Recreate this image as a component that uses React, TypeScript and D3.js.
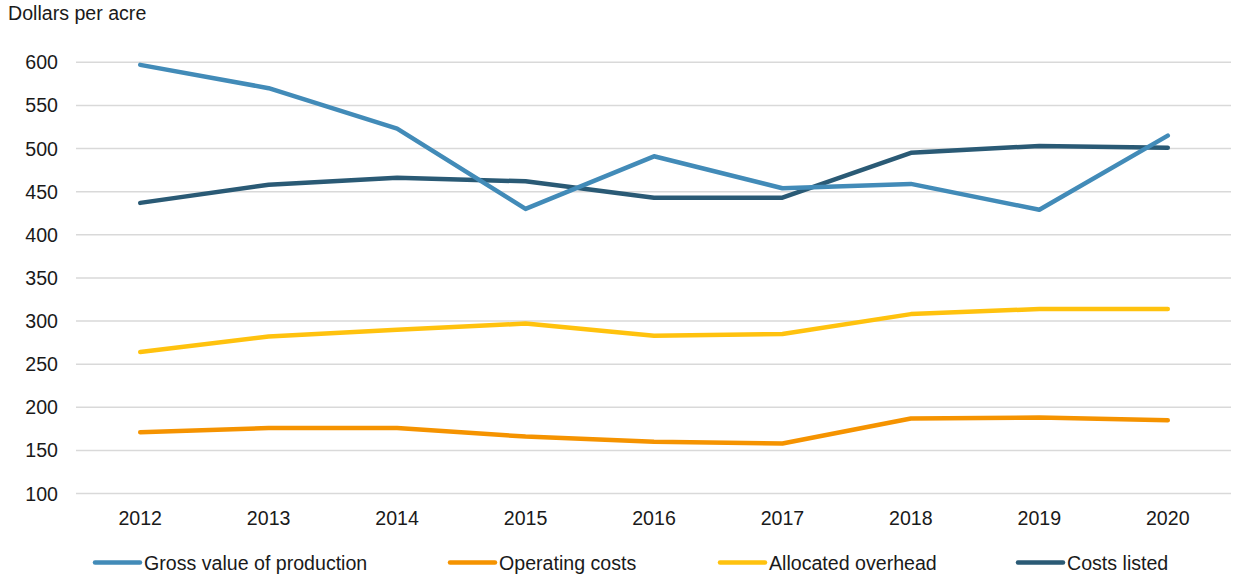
import React from "react";
import * as d3 from "d3";

const years = ["2012", "2013", "2014", "2015", "2016", "2017", "2018", "2019", "2020"];
const grossValue = [597, 570, 523, 430, 491, 454, 459, 429, 515];
const operatingCosts = [171, 176, 176, 166, 160, 158, 187, 188, 185];
const allocatedOverhead = [264, 282, 290, 297, 283, 285, 308, 314, 314];
const costsListed = [437, 458, 466, 462, 443, 443, 495, 503, 501];
const yTicks = [100, 150, 200, 250, 300, 350, 400, 450, 500, 550, 600];

const seriesNames = ["Gross value of production", "Operating costs", "Allocated overhead", "Costs listed"];
const seriesColors = ["#428bb8", "#f59300", "#ffc20e", "#2a5a75"];
const seriesValues = [grossValue, operatingCosts, allocatedOverhead, costsListed];
// draw order: overhead/operating first, then costs listed, gross on top
const drawOrder = [1, 2, 3, 0];
const legendX = [95, 450, 720, 1018];

const W = 1233;
const H = 579;
const FONT = "'Liberation Sans', Arial, sans-serif";
const FS = 19.6;

export default function App() {
  const x = d3.scalePoint<string>().domain(years).range([76, 1232]).padding(0.5);
  const y = d3.scaleLinear().domain([100, 600]).range([493.5, 62.3]);
  const line = d3
    .line<number>()
    .x((_, i) => x(years[i]) as number)
    .y((d) => y(d));

  return (
    <svg
      width={W}
      height={H}
      style={{ position: "absolute", left: 0, top: 0, display: "block", background: "#fff" }}
      fontFamily={FONT}
    >
      <text x={8} y={20} fontSize={FS} fill="#1a1a1a">
        Dollars per acre
      </text>
      {yTicks.map((t) => (
        <g key={t}>
          <line x1={76} x2={1231} y1={y(t)} y2={y(t)} stroke="#d9d9d9" strokeWidth={1.5} />
          <text x={58} y={y(t)} dy="0.36em" textAnchor="end" fontSize={FS} fill="#1a1a1a">
            {t}
          </text>
        </g>
      ))}
      {years.map((yr) => (
        <text key={yr} x={x(yr)} y={525} textAnchor="middle" fontSize={FS} fill="#1a1a1a">
          {yr}
        </text>
      ))}
      {drawOrder.map((si) => (
        <path
          key={si}
          d={line(seriesValues[si]) || ""}
          fill="none"
          stroke={seriesColors[si]}
          strokeWidth={4.5}
          strokeLinejoin="round"
          strokeLinecap="round"
        />
      ))}
      {seriesNames.map((name, i) => (
        <g key={name}>
          <line
            x1={legendX[i]}
            x2={legendX[i] + 45}
            y1={562.5}
            y2={562.5}
            stroke={seriesColors[i]}
            strokeWidth={4.5}
            strokeLinecap="round"
          />
          <text x={legendX[i] + 49} y={562.5} dy="0.36em" fontSize={FS} fill="#1a1a1a">
            {name}
          </text>
        </g>
      ))}
    </svg>
  );
}
